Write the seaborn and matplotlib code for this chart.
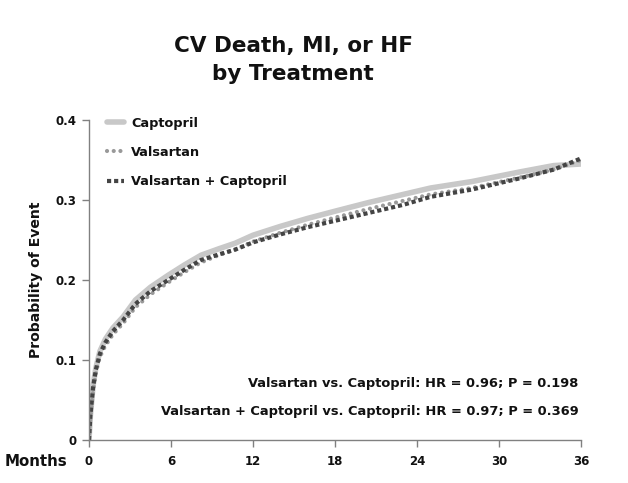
import matplotlib
matplotlib.use("Agg")
import matplotlib.pyplot as plt
import seaborn as sns

# months since randomisation
months = [0, 0.1, 0.3, 0.5, 0.8, 1.2, 1.75, 2.5, 3.4, 4.5, 5.8, 7, 8.2, 9.5, 10.7,
          12, 14, 16, 18, 20.5, 23, 25, 28, 31.5, 34, 36]
captopril = [0, 0.03, 0.068, 0.09, 0.111, 0.126, 0.140, 0.154, 0.175, 0.191, 0.206,
             0.219, 0.231, 0.239, 0.246, 0.256, 0.267, 0.277, 0.286, 0.297, 0.307,
             0.315, 0.323, 0.335, 0.343, 0.345]
valsartan = [0, 0.028, 0.062, 0.084, 0.104, 0.118, 0.132, 0.146, 0.166, 0.182, 0.197,
             0.210, 0.222, 0.231, 0.238, 0.248, 0.259, 0.269, 0.278, 0.289, 0.299,
             0.307, 0.315, 0.328, 0.338, 0.350]
val_cap = [0, 0.03, 0.066, 0.088, 0.108, 0.122, 0.136, 0.150, 0.170, 0.186, 0.200,
           0.213, 0.225, 0.232, 0.238, 0.247, 0.257, 0.266, 0.274, 0.284, 0.294,
           0.304, 0.313, 0.327, 0.338, 0.352]

x_ticks = [0, 6, 12, 18, 24, 30, 36]
y_ticks = [0, 0.1, 0.2, 0.3, 0.4]
y_labels = ["0", "0.1", "0.2", "0.3", "0.4"]

sns.set_style("ticks")
plt.rcParams["font.family"] = ["DejaVu Sans"]
plt.rcParams["font.weight"] = "bold"
plt.rcParams["text.color"] = "#111111"
plt.rcParams["axes.labelcolor"] = "#111111"
plt.rcParams["xtick.labelcolor"] = "#111111"
plt.rcParams["ytick.labelcolor"] = "#111111"

fig = plt.figure(figsize=(6.28, 4.83), dpi=100)
ax = fig.add_axes([89 / 628, 43 / 483, 492 / 628, 320 / 483])

sns.lineplot(x=months, y=captopril, ax=ax, color="#c8c8c8", linewidth=4.0,
             label="Captopril")
sns.lineplot(x=months, y=valsartan, ax=ax, color="#999999", linewidth=3.0,
             label="Valsartan")
ax.lines[-1].set_dashes((0.01, 1.6))
ax.lines[-1].set_dash_capstyle("round")
sns.lineplot(x=months, y=val_cap, ax=ax, color="#444444", linewidth=3.0,
             label="Valsartan + Captopril")
ax.lines[-1].set_dashes((1, 0.7))

ax.set_xlim(0, 36)
ax.set_ylim(0, 0.4)
ax.set_xticks(x_ticks)
ax.set_yticks(y_ticks)
ax.set_yticklabels(y_labels)
ax.tick_params(labelsize=8.5, color="#808080", length=5, width=1, pad=4)
ax.tick_params(axis="x", pad=6)
for lab in ax.get_xticklabels() + ax.get_yticklabels():
    lab.set_fontweight("bold")
for side in ["left", "bottom"]:
    ax.spines[side].set_color("#808080")
    ax.spines[side].set_linewidth(1)
sns.despine(ax=ax)
ax.set_xlabel("")
ax.set_ylabel("Probability of Event", fontsize=10.1, fontweight="bold", labelpad=9)

fig.text(5 / 628, 1 - 461 / 483, "Months", fontsize=10.8, fontweight="bold",
         ha="left", va="center")

fig.text(293 / 628, 1 - 60 / 483, "CV Death, MI, or HF\nby Treatment", fontsize=15.5,
         fontweight="bold", ha="center", va="center", linespacing=1.45)

leg = ax.legend(loc="upper left", bbox_to_anchor=(18 / 492, 1.01), frameon=False,
                fontsize=9.3, handlelength=1.3, handletextpad=0.55, labelspacing=1.25,
                borderpad=0, borderaxespad=0)
for t in leg.get_texts():
    t.set_fontweight("bold")

ax.text(35.8, 0.07, "Valsartan vs. Captopril: HR = 0.96; P = 0.198", ha="right",
        va="center", fontsize=9.4, fontweight="bold")
ax.text(35.8, 0.035, "Valsartan + Captopril vs. Captopril: HR = 0.97; P = 0.369",
        ha="right", va="center", fontsize=9.4, fontweight="bold")

fig.savefig("out.png", dpi=100)
